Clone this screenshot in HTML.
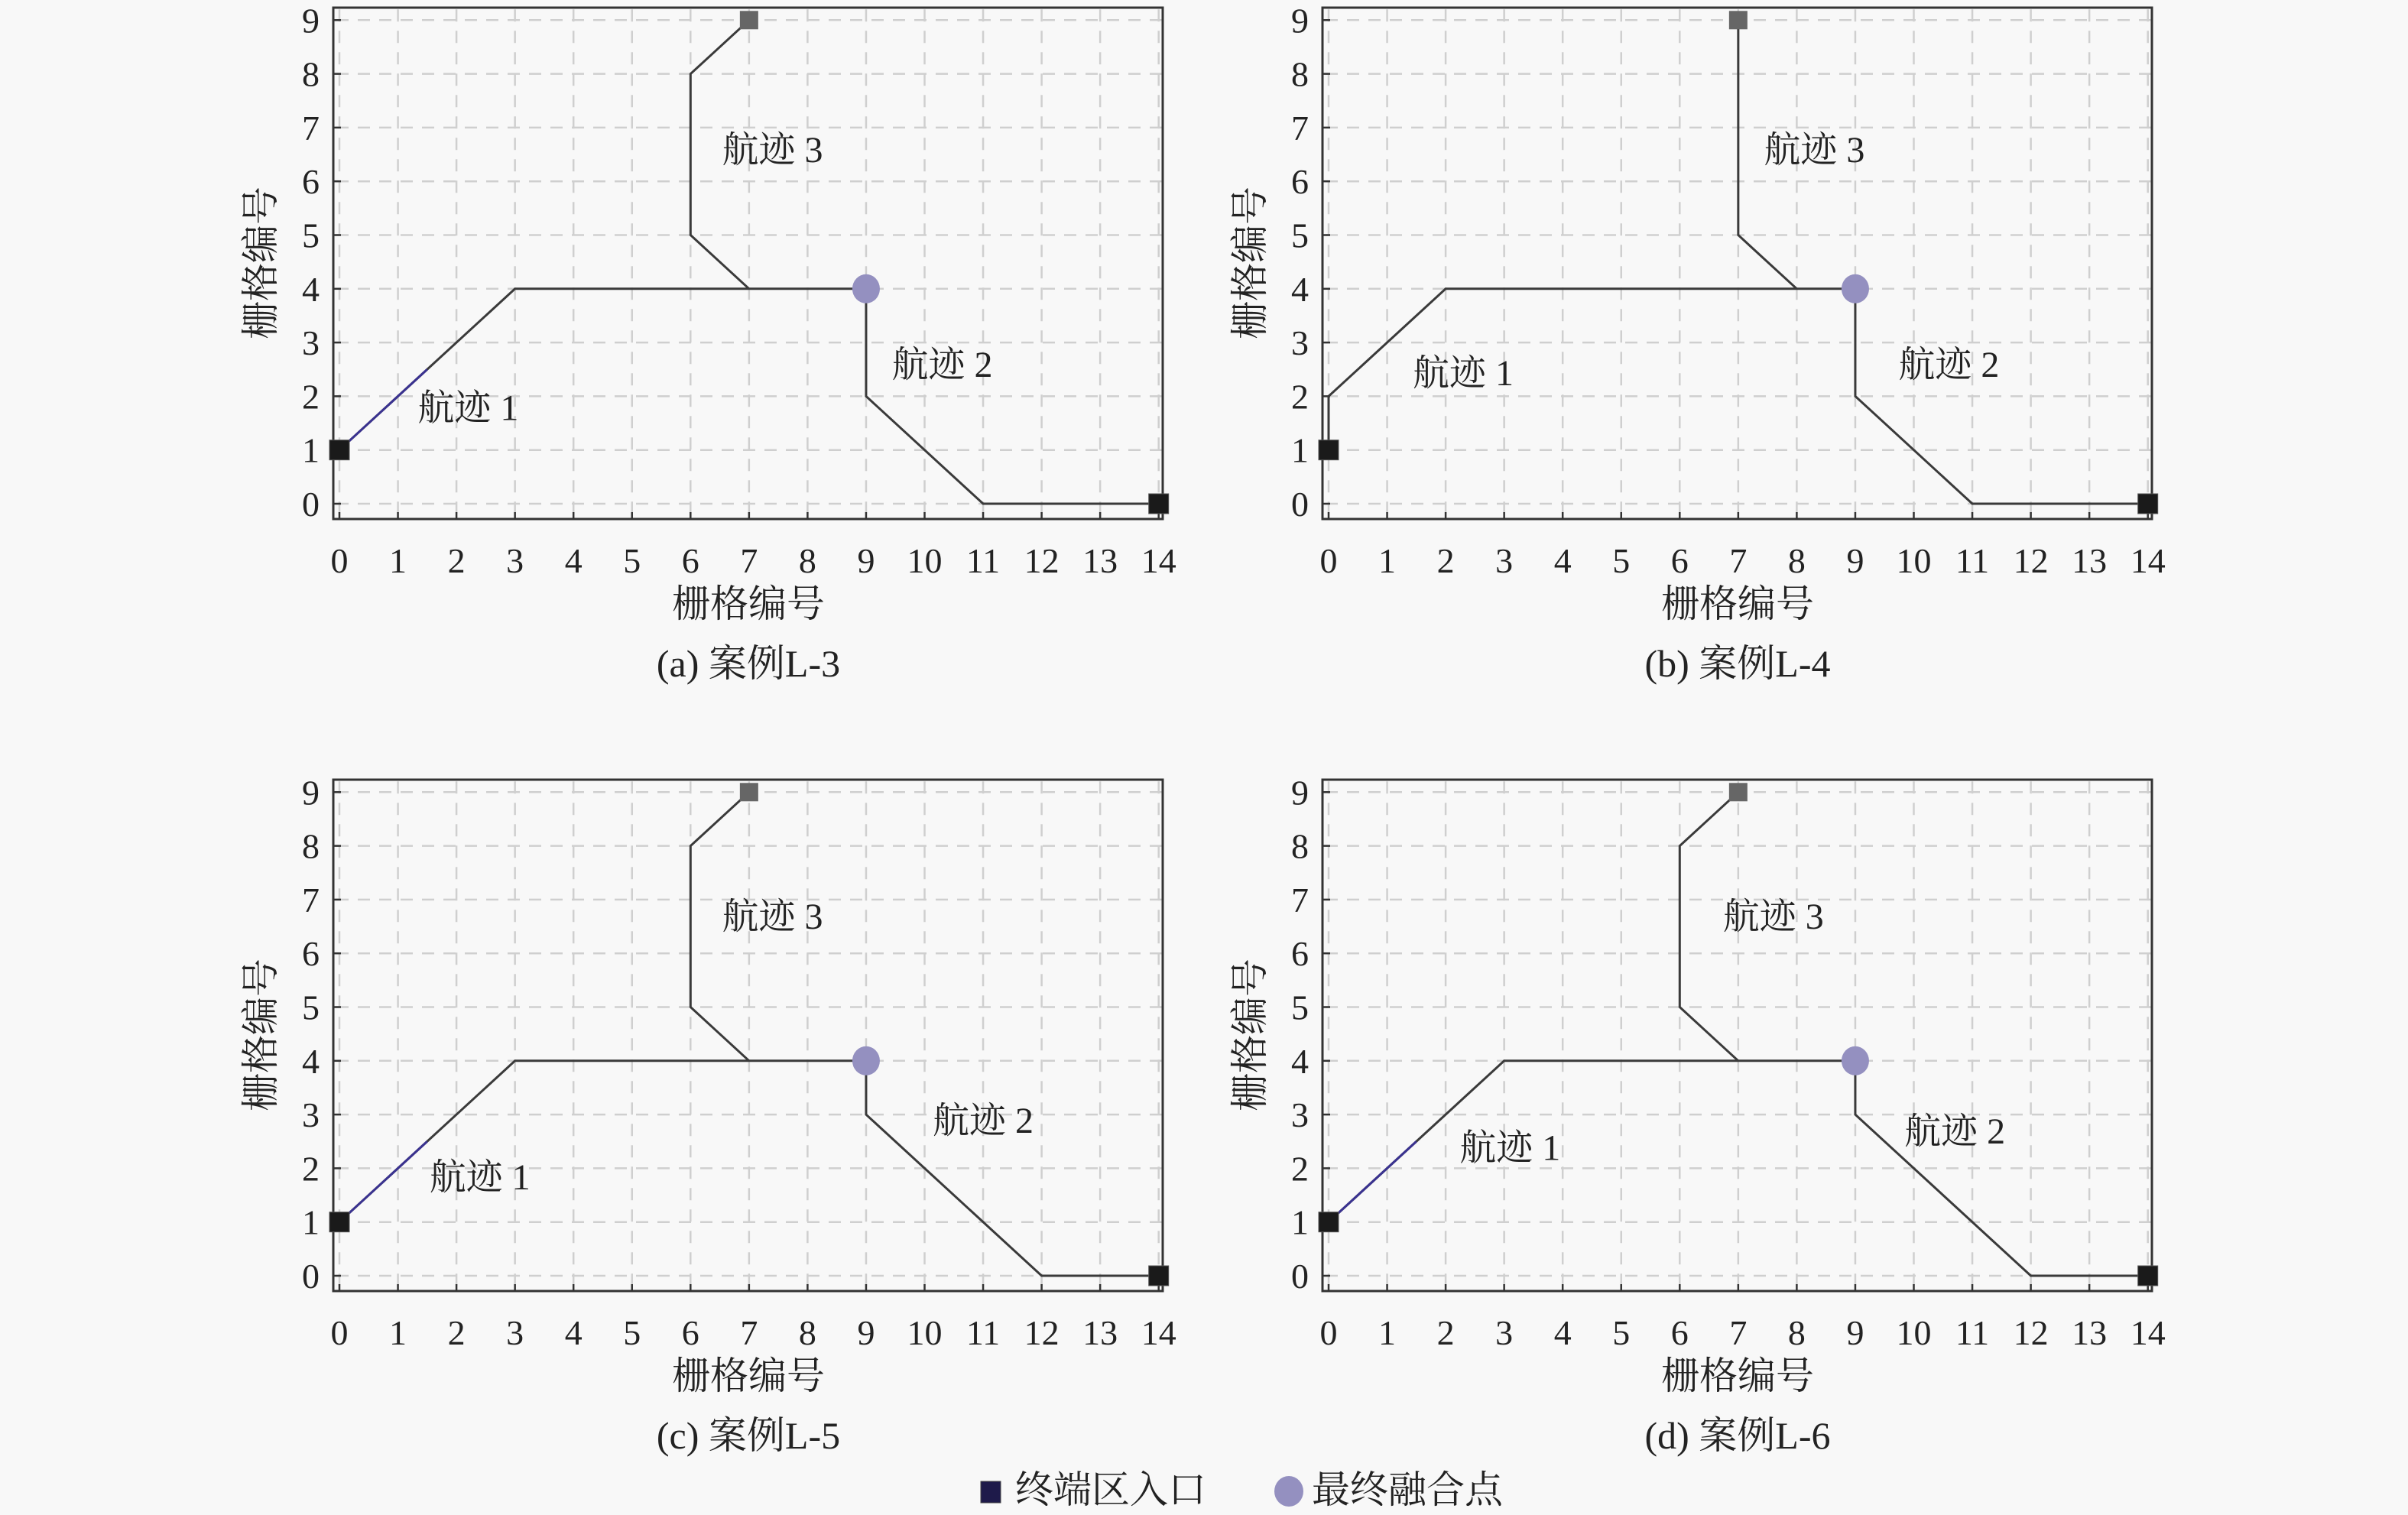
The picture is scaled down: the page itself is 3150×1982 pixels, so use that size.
<!DOCTYPE html>
<html><head><meta charset="utf-8"><style>
html,body{margin:0;padding:0;background:#f8f8f8;}
svg{display:block;font-family:"Liberation Serif","Noto Serif CJK SC","Noto Sans CJK SC",serif;}
</style></head><body>
<svg id="chart" width="3150" height="1982" viewBox="0 0 3150 1982" xmlns="http://www.w3.org/2000/svg">
<rect x="0" y="0" width="3150" height="1982" fill="#f8f8f8"/>
<g id="panels"></g>
<g>
<rect x="1283" y="1938" width="26" height="28" fill="#1e1a4a" stroke="#444"/>
<text x="1328" y="1966" font-size="50" fill="#222">终端区入口</text>
<ellipse cx="1686" cy="1951" rx="19" ry="20" fill="#9490c0"/>
<text x="1716" y="1966" font-size="50" fill="#222">最终融合点</text>
</g>
</svg>
<script>
// data
const xTicks = [0,1,2,3,4,5,6,7,8,9,10,11,12,13,14];
const yTicks = [0,1,2,3,4,5,6,7,8,9];
const captions = ["(a) 案例L-3","(b) 案例L-4","(c) 案例L-5","(d) 案例L-6"];
const track1 = [
 [[0,1],[3,4],[9,4]],
 [[0,1],[0,2],[2,4],[9,4]],
 [[0,1],[3,4],[9,4]],
 [[0,1],[3,4],[9,4]]
];
const track2 = [
 [[9,4],[9,2],[11,0],[14,0]],
 [[9,4],[9,2],[11,0],[14,0]],
 [[9,4],[9,3],[12,0],[14,0]],
 [[9,4],[9,3],[12,0],[14,0]]
];
const track3 = [
 [[7,9],[6,8],[6,5],[7,4]],
 [[7,9],[7,5],[8,4]],
 [[7,9],[6,8],[6,5],[7,4]],
 [[7,9],[6,8],[6,5],[7,4]]
];
const entryPoints = [[[0,1],[14,0]],[[0,1],[14,0]],[[0,1],[14,0]],[[0,1],[14,0]]];
const track3Start = [[7,9],[7,9],[7,9],[7,9]];
const mergePoint = [[9,4],[9,4],[9,4],[9,4]];
// label anchors in data coords [x,y]
const label1 = [[2.2,1.8],[2.3,2.45],[2.4,1.85],[3.1,2.4]];
const label2 = [[10.3,2.6],[10.6,2.6],[11,2.9],[10.7,2.7]];
const label3 = [[7.4,6.6],[8.3,6.6],[7.4,6.7],[7.6,6.7]];

const NS="http://www.w3.org/2000/svg";
const panelsG=document.getElementById('panels');
const offs=[[0,0],[1294,0],[0,1010],[1294,1010]];
function mk(tag,attrs,parent){const e=document.createElementNS(NS,tag);for(const k in attrs)e.setAttribute(k,attrs[k]);parent.appendChild(e);return e;}

offs.forEach((o,p)=>{
  const X0=444+o[0], UX=76.55, Y0=659+o[1], UY=70.3;
  const sx=v=>X0+v*UX, sy=v=>Y0-v*UY;
  const g=mk('g',{},panelsG);
  
  
  // grid
  xTicks.forEach(t=>{
    const l=mk('line',{x1:sx(t),x2:sx(t),y1:sy(9)-14,y2:sy(0)+14,stroke:'#cfcfcf','stroke-width':2.5,'stroke-dasharray':'16 12'},g);
    
    
    const tk=mk('line',{x1:sx(t),x2:sx(t),y1:Y0+19,y2:Y0+11,stroke:'#333','stroke-width':2.5},g);
    
    
    const tx=mk('text',{x:sx(t),y:Y0+90,'font-size':46,'text-anchor':'middle',fill:'#222'},g);
    tx.textContent=t;
    
    
  });
  yTicks.forEach(t=>{
    const l=mk('line',{x1:sx(0)-4,x2:sx(14)+4,y1:sy(t),y2:sy(t),stroke:'#cfcfcf','stroke-width':2.5,'stroke-dasharray':'16 12'},g);
    
    
    const tk=mk('line',{x1:X0-8,x2:X0+2,y1:sy(t),y2:sy(t),stroke:'#333','stroke-width':2.5},g);
    
    
    const tx=mk('text',{x:X0-26,y:sy(t)+16,'font-size':46,'text-anchor':'end',fill:'#222'},g);
    tx.textContent=t;
    
    
  });
  // frame
  const fr=mk('rect',{x:X0-8,y:Y0-649,width:1085,height:669,fill:'none',stroke:'#333','stroke-width':3},g);
  
  
  // tracks
  [[track1,'track-1'],[track2,'track-2'],[track3,'track-3']].forEach(([arr,nm])=>{
    const pts=arr[p].map(q=>sx(q[0])+','+sy(q[1])).join(' ');
    const pl=mk('polyline',{points:pts,fill:'none',stroke:'#3a3a3a','stroke-width':3},g);
    
    
  });
  // blue start segment of track 1
  const a=track1[p][0], b=track1[p][1];
  if(a[0]!==b[0]){
    const bl=mk('line',{x1:sx(a[0]),y1:sy(a[1]),x2:sx(a[0]+(b[0]-a[0])*0.5),y2:sy(a[1]+(b[1]-a[1])*0.5),stroke:'#3a3290','stroke-width':3},g);
    
    
  }
  // markers
  entryPoints[p].forEach(q=>{
    const r=mk('rect',{x:sx(q[0])-13,y:sy(q[1])-13,width:26,height:26,fill:'#1a1a1a',stroke:'#555','stroke-width':1},g);
    
    
  });
  const s3=track3Start[p];
  const r3=mk('rect',{x:sx(s3[0])-12,y:sy(s3[1])-12,width:24,height:24,fill:'#666'},g);
  
  
  const m=mergePoint[p];
  const c=mk('ellipse',{cx:sx(m[0]),cy:sy(m[1]),rx:18,ry:19,fill:'#9490c0'},g);
  
  
  // track labels
  [[label1,'航迹 1','track-1-label'],[label2,'航迹 2','track-2-label'],[label3,'航迹 3','track-3-label']].forEach(([arr,txt,nm])=>{
    const t=mk('text',{x:sx(arr[p][0]),y:sy(arr[p][1])+17,'font-size':48,'text-anchor':'middle',fill:'#222'},g);
    t.textContent=txt;
    
    
  });
  // axis titles
  const xt=mk('text',{x:X0+535,y:Y0+148,'font-size':50,'text-anchor':'middle',fill:'#222'},g);
  xt.textContent='栅格编号';
  
  
  const yx=o[0]+341+17, yy=Y0-315;
  const yt=mk('text',{x:yx,y:yy,'font-size':50,'text-anchor':'middle',fill:'#222',transform:'rotate(-90 '+yx+' '+yy+')'},g);
  yt.textContent='栅格编号';
  
  
  const cp=mk('text',{x:X0+535,y:Y0+226,'font-size':50,'text-anchor':'middle',fill:'#222'},g);
  cp.textContent=captions[p];
  
  
});
</script>
</body></html>
